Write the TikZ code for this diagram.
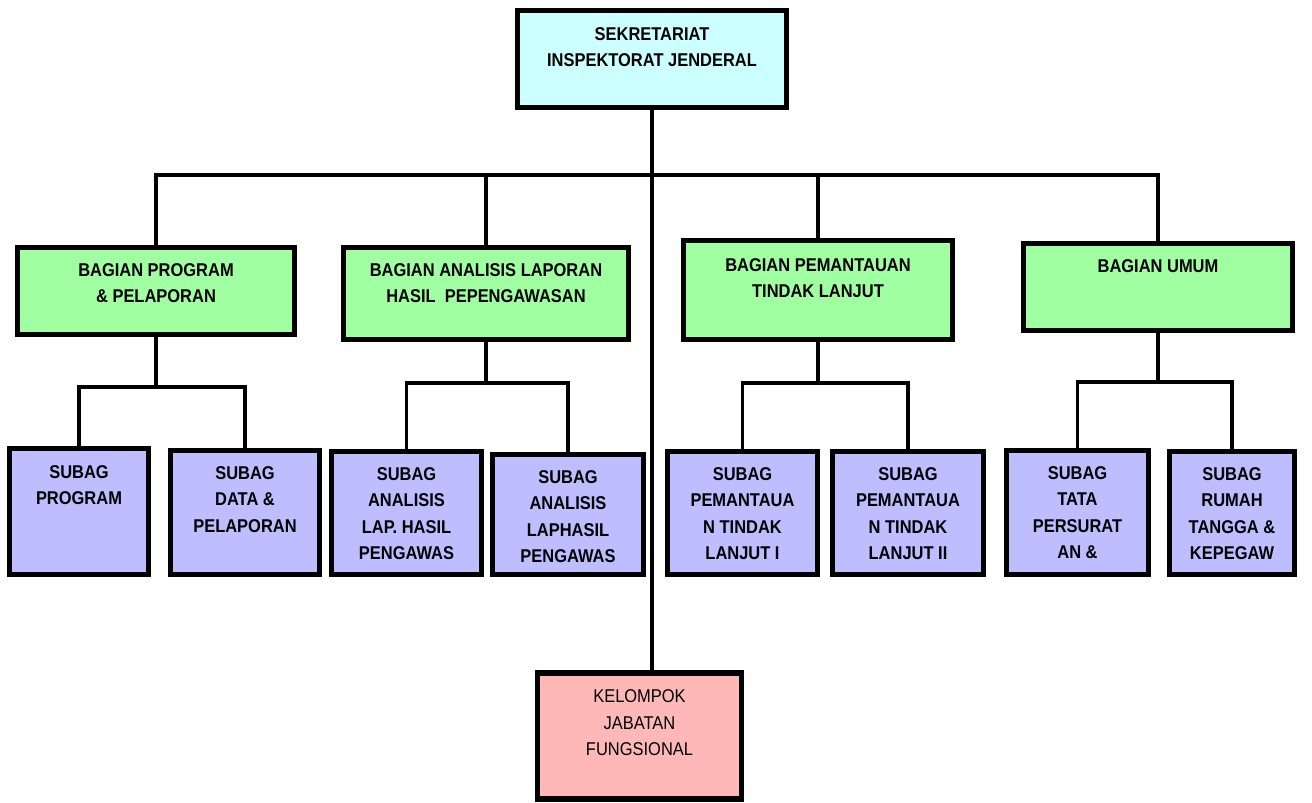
\documentclass[tikz,border=0pt]{standalone}
\usepackage{fontspec}
\setmainfont{Liberation Sans}[FakeStretch=0.89]
\definecolor{sekcyan}{HTML}{CCFFFF}
\definecolor{bagiangreen}{HTML}{A0FFA0}
\definecolor{subagblue}{HTML}{BDBDFF}
\definecolor{kelpink}{HTML}{FFB8B8}
\tikzset{
  unit/.style={draw, line width=5.5pt, inner sep=0pt},
  sek/.style={unit, fill=sekcyan},
  bagian/.style={unit, fill=bagiangreen},
  subag/.style={unit, fill=subagblue},
  kel/.style={unit, fill=kelpink},
  boxtext/.style={anchor=north, yshift=-18.5pt, align=center, inner sep=0pt,
    font=\bfseries\fontsize{18.5}{26.5}\selectfont},
  link/.style={line width=3.2pt}
}

\begin{document}
\begin{tikzpicture}[x=1pt, y=-1pt]
    \useasboundingbox (0,0) rectangle (1312,803);
    % sekretariat
    \node[sek, minimum width=269pt, minimum height=97pt,
          label={[boxtext, yshift=-1pt]north:SEKRETARIAT\\INSPEKTORAT JENDERAL}] (sek) at (652,59) {};
    % bagian
    \node[bagian, minimum width=277pt, minimum height=87pt,
          label={[boxtext]north:BAGIAN PROGRAM\\\& PELAPORAN}] (b1) at (156,291) {};
    \node[bagian, minimum width=285pt, minimum height=92pt,
          label={[boxtext]north:BAGIAN ANALISIS LAPORAN\\HASIL\ \ PEPENGAWASAN}] (b2) at (486,293.5) {};
    \node[bagian, minimum width=269pt, minimum height=99pt,
          label={[boxtext, yshift=-2pt]north:BAGIAN PEMANTAUAN\\TINDAK LANJUT}] (b3) at (818,290) {};
    \node[bagian, minimum width=269pt, minimum height=87pt,
          label={[boxtext]north:BAGIAN UMUM}] (b4) at (1158,287) {};
    % subag
    \node[subag, minimum width=139pt, minimum height=126pt,
          label={[boxtext, yshift=-1pt]north:SUBAG\\PROGRAM}] (s1) at (79,511.5) {};
    \node[subag, minimum width=149pt, minimum height=124pt,
          label={[boxtext]north:SUBAG\\DATA \&\\PELAPORAN}] (s2) at (245,512.5) {};
    \node[subag, minimum width=150pt, minimum height=123pt,
          label={[boxtext]north:SUBAG\\ANALISIS\\LAP. HASIL\\PENGAWAS}] (s3) at (406.5,513) {};
    \node[subag, minimum width=151pt, minimum height=120pt,
          label={[boxtext]north:SUBAG\\ANALISIS\\LAPHASIL\\PENGAWAS}] (s4) at (568,514.5) {};
    \node[subag, minimum width=150pt, minimum height=123pt,
          label={[boxtext]north:SUBAG\\PEMANTAUA\\N TINDAK\\LANJUT I}] (s5) at (742.5,513) {};
    \node[subag, minimum width=151pt, minimum height=123pt,
          label={[boxtext]north:SUBAG\\PEMANTAUA\\N TINDAK\\LANJUT II}] (s6) at (908,513) {};
    \node[subag, minimum width=142pt, minimum height=124pt,
          label={[boxtext]north:SUBAG\\TATA\\PERSURAT\\AN \&}] (s7) at (1077.5,512.5) {};
    \node[subag, minimum width=125pt, minimum height=123pt,
          label={[boxtext]north:SUBAG\\RUMAH\\TANGGA \&\\KEPEGAW}] (s8) at (1232,513) {};
    % kelompok jabatan fungsional
    \node[kel, minimum width=204pt, minimum height=126pt,
          label={[boxtext, yshift=-1pt, font=\fontsize{18.5}{26.5}\selectfont]north:KELOMPOK\\JABATAN\\FUNGSIONAL}] (kel) at (639.5,736) {};

    % connectors
    \draw[link] (sek.south) -- (sek.south |- kel.north);
    \draw[link] (b1.north) |- (b4.north |- 0,175) -- (b4.north);
    \draw[link] (b2.north) -- (b2.north |- 0,175);
    \draw[link] (b3.north) -- (b3.north |- 0,175);
    \draw[link] (b1.south) -- (b1.south |- 0,387);
    \draw[link] (s1.north) |- (s2.north |- 0,387) -- (s2.north);
    \draw[link] (b2.south) -- (b2.south |- 0,383);
    \draw[link] (s3.north) |- (s4.north |- 0,383) -- (s4.north);
    \draw[link] (b3.south) -- (b3.south |- 0,383);
    \draw[link] (s5.north) |- (s6.north |- 0,383) -- (s6.north);
    \draw[link] (b4.south) -- (b4.south |- 0,382);
    \draw[link] (s7.north) |- (s8.north |- 0,382) -- (s8.north);
\end{tikzpicture}
\end{document}
